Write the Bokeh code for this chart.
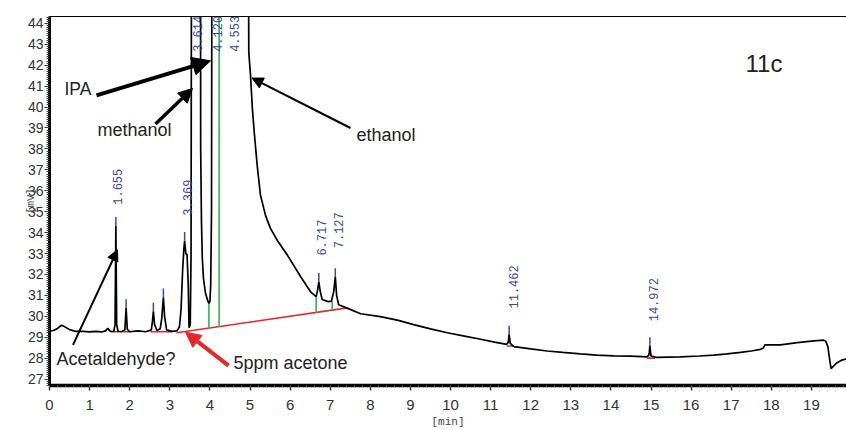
import math
from bokeh.plotting import figure
from bokeh.models import Range1d, LinearAxis, Label, Arrow, NormalHead, FixedTicker, ColumnDataSource
from bokeh.core.properties import value
from bokeh.embed import file_html
from bokeh.resources import INLINE

# ---------------- data ----------------
time_min = [0.00, 0.10, 0.20, 0.30, 0.38, 0.50, 0.65, 0.85, 1.00, 1.15, 1.30, 1.40, 1.45, 1.52,
            1.60, 1.635, 1.655, 1.675, 1.71, 1.80, 1.88, 1.91, 1.94, 2.00, 2.20, 2.40, 2.54,
            2.57, 2.59, 2.62, 2.68, 2.76, 2.80, 2.84, 2.87, 2.92, 3.05, 3.18, 3.24, 3.28, 3.32,
            3.35, 3.37, 3.40, 3.43, 3.46, 3.48, 3.51, 3.53, 3.55, 3.76, 3.77, 3.79, 3.81, 3.84,
            3.89, 3.95, 3.975, 4.00, 4.02, 4.04, 4.06, 4.94, 4.97, 5.01, 5.06, 5.11, 5.18,
            5.26, 5.39, 5.51, 5.69, 5.94, 6.26, 6.51, 6.65, 6.69, 6.717, 6.75, 6.80, 6.95,
            7.03, 7.09, 7.127, 7.16, 7.21, 7.42, 7.76, 8.25, 8.70, 9.08, 9.50, 9.92, 10.35,
            10.75, 11.10, 11.40, 11.44, 11.462, 11.49, 11.58, 12.00, 12.41, 12.80, 13.24,
            13.65, 14.07, 14.50, 14.90, 14.95, 14.972, 15.00, 15.15, 15.74, 16.20, 16.57,
            16.90, 17.23, 17.50, 17.73, 17.80, 17.84, 18.23, 18.65, 19.06, 19.31, 19.36,
            19.41, 19.45, 19.49, 19.55, 19.64, 19.75, 19.87]
signal_mv = [29.30, 29.32, 29.42, 29.57, 29.50, 29.36, 29.28, 29.28, 29.25, 29.28, 29.25, 29.30,
             29.42, 29.28, 29.27, 29.60, 34.33, 29.60, 29.28, 29.26, 29.35, 30.39, 29.38, 29.26,
             29.30, 29.26, 29.35, 29.80, 30.23, 29.60, 29.32, 29.40, 29.90, 30.91, 30.00, 29.35,
             29.28, 29.30, 29.50, 30.30, 32.20, 33.20, 33.61, 33.00, 32.95, 31.50, 29.45, 29.60,
             33.00, 60.00, 60.00, 38.00, 34.50, 32.80, 31.80, 31.10, 30.72, 30.62, 30.70, 31.50,
             35.00, 60.00, 60.00, 42.60, 41.60, 39.90, 38.70, 37.20, 35.80, 34.80, 34.20, 33.60,
             32.90, 31.90, 31.17, 30.94, 31.30, 31.65, 31.20, 30.80, 30.70, 30.72, 31.20, 31.88,
             31.00, 30.55, 30.39, 30.12, 29.98, 29.80, 29.60, 29.40, 29.21, 29.05, 28.90, 28.76,
             28.66, 28.75, 29.13, 28.70, 28.55, 28.44, 28.34, 28.27, 28.20, 28.14, 28.11, 28.09,
             28.06, 28.15, 28.58, 28.10, 28.03, 28.06, 28.10, 28.14, 28.20, 28.27, 28.34, 28.42,
             28.48, 28.63, 28.63, 28.74, 28.82, 28.86, 28.80, 28.55, 28.00, 27.50, 27.62, 27.78,
             27.90, 27.95]

# detected peaks (apex markers)
peak_time = [1.655, 1.91, 2.59, 2.84, 3.37, 6.717, 7.127, 11.462, 14.972]
peak_top = [34.33, 30.39, 30.23, 30.91, 33.61, 31.65, 31.88, 29.13, 28.58]

# retention-time labels
rt_labels = ["1.655", "3.369", "3.614", "4.120", "4.553", "6.717", "7.127", "11.462", "14.972"]

# integration baselines (red) : start time, end time, start mV, end mV
base_t0 = [1.60, 1.84, 2.52, 3.17, 11.40, 14.90]
base_t1 = [1.72, 2.00, 3.06, 7.43, 11.58, 15.10]
base_v0 = [29.26, 29.26, 29.26, 29.21, 28.58, 28.00]
base_v1 = [29.26, 29.26, 29.26, 30.40, 28.58, 28.00]

# peak split lines (green): time, low mV, high mV
split_t = [3.975, 4.23, 6.65, 7.05]
split_lo = [29.43, 29.50, 30.18, 30.29]
split_hi = [30.62, 60.00, 30.94, 30.72]

x_ticks = list(range(0, 20))
y_ticks = list(range(27, 45))

# ---------------- layout constants ----------------
X0, X1 = 0, 19.875
Y0, Y1 = 26.69, 44.33
label_x = [1.696, 3.429, 3.703, 4.190, 4.613, 6.778, 7.207, 11.571, 15.05]
label_y = [35.33, 34.81, 42.64, 42.64, 42.64, 32.90, 33.25, 30.37, 29.76]

BLUE = "#3848a6"
GREEN = "#2fb34f"
RED = "#e8262a"
TICK_FONT = "Liberation Sans Narrow, Liberation Sans, sans-serif"

p = figure(width=846, height=430, x_range=Range1d(X0, X1), y_range=Range1d(Y0, Y1),
           output_backend="svg", toolbar_location=None,
           min_border_left=49, min_border_right=0, min_border_top=16, min_border_bottom=40)
p.xgrid.visible = False
p.ygrid.visible = False
p.outline_line_color = None
p.background_fill_color = "white"
p.border_fill_color = "white"

# x axis
xa = p.xaxis[0]
xa.ticker = FixedTicker(ticks=x_ticks, minor_ticks=[round(i * 0.2, 2) for i in range(0, 100)])
xa.axis_line_width = 3.5
xa.axis_line_color = "black"
xa.major_tick_out = 5
xa.major_tick_in = 0
xa.major_tick_line_color = "#333333"
xa.major_tick_line_width = 1.5
xa.minor_tick_out = 2
xa.minor_tick_in = 0
xa.minor_tick_line_color = "#666666"
xa.major_label_text_font = TICK_FONT
xa.major_label_text_font_size = "15px"
xa.major_label_text_color = "#333333"
xa.major_label_standoff = 9
xa.axis_label = "[min]"
xa.axis_label_text_font = "Liberation Mono"
xa.axis_label_text_font_size = "11px"
xa.axis_label_text_font_style = "normal"
xa.axis_label_text_color = "#444444"
xa.axis_label_standoff = 3

# y axis
ya = p.yaxis[0]
ya.ticker = FixedTicker(ticks=y_ticks, minor_ticks=[round(27 + i * 0.1, 2) for i in range(-3, 175)])
ya.axis_line_width = 3
ya.axis_line_color = "black"
ya.major_tick_out = 5
ya.major_tick_in = 0
ya.major_tick_line_color = "#333333"
ya.major_tick_line_width = 1.2
ya.minor_tick_out = 3
ya.minor_tick_in = 0
ya.minor_tick_line_color = "#444444"
ya.major_label_text_font = TICK_FONT
ya.major_label_text_font_size = "14px"
ya.major_label_text_color = "#333333"
ya.major_label_standoff = 1
ya.axis_label = "[mV]"
ya.axis_label_text_font = "Liberation Mono"
ya.axis_label_text_font_size = "10.5px"
ya.axis_label_text_font_style = "normal"
ya.axis_label_text_color = "#444444"
ya.axis_label_standoff = -12

# top border line
top = LinearAxis(ticker=FixedTicker(ticks=[]), axis_line_width=1.2, axis_line_color="black",
                 major_tick_line_color=None, minor_tick_line_color=None,
                 major_label_text_font_size="0px")
p.add_layout(top, "above")

# integration baselines and split lines
p.segment(x0=base_t0, y0=base_v0, x1=base_t1, y1=base_v1, line_color=RED, line_width=1.6)
p.segment(x0=split_t, y0=split_lo, x1=split_t, y1=split_hi, line_color=GREEN, line_width=1.6)

# trace
p.line(time_min, signal_mv, line_color="black", line_width=1.7)

# apex markers
p.segment(x0=peak_time, y0=peak_top, x1=peak_time, y1=[v + 0.42 for v in peak_top],
          line_color=BLUE, line_width=1.5)

# retention time labels
src = ColumnDataSource(dict(x=label_x, y=label_y, t=rt_labels))
p.text(x="x", y="y", text="t", source=src, angle=math.pi / 2, text_align="left",
       text_baseline="middle", text_color=BLUE, text_font=value("Liberation Mono"),
       text_font_size="12px")

# annotations
def add_text(x, y, s, size="18px", color="#222222", font="Liberation Sans", **kw):
    p.add_layout(Label(x=x, y=y, text=s, text_font=font, text_font_size=size,
                       text_color=color, **kw))

add_text(0.374, 40.37, "IPA", size="17.5px")
add_text(1.197, 38.42, "methanol")
add_text(7.656, 38.20, "ethanol")
add_text(0.175, 27.50, "Acetaldehyde?")
add_text(4.589, 27.31, "5ppm acetone")
add_text(17.357, 41.42, "11c", size="24px")

def add_arrow(xs, ys, xe, ye, width, size, color="black"):
    p.add_layout(Arrow(x_start=xs, y_start=ys, x_end=xe, y_end=ye, line_color=color,
                       line_width=width,
                       end=NormalHead(size=size, fill_color=color, line_color=color, line_width=1)))

add_arrow(1.172, 40.56, 4.015, 42.21, 4, 18)
add_arrow(2.643, 39.19, 3.566, 40.89, 3.5, 14)
add_arrow(7.506, 39.00, 5.05, 41.39, 2, 11)
add_arrow(0.586, 28.63, 1.696, 33.18, 2, 11)
add_arrow(4.464, 27.64, 3.392, 29.24, 4, 15, color=RED)

open("out.html", "w").write(file_html(p, INLINE))
